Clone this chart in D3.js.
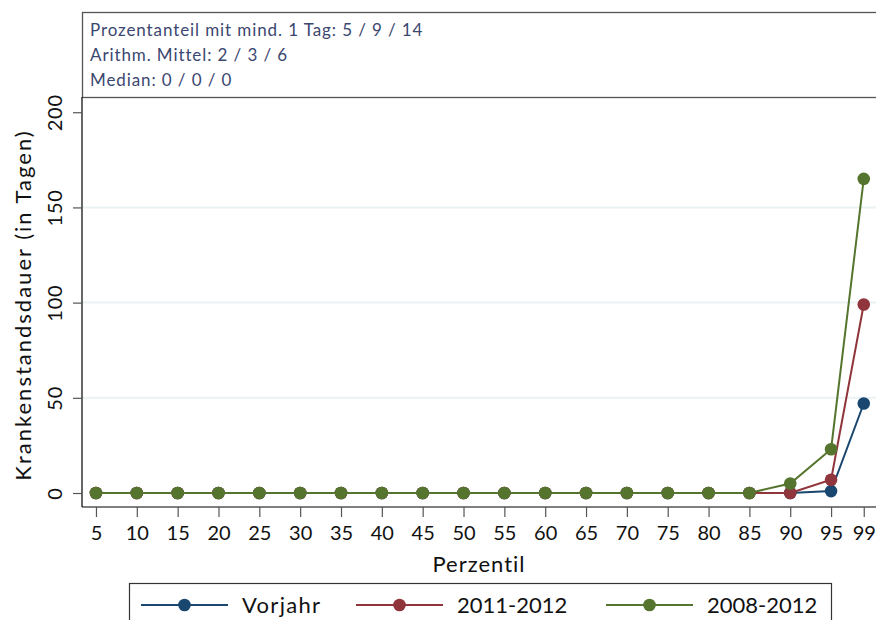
<!DOCTYPE html>
<html><head><meta charset="utf-8">
<script src="https://cdn.jsdelivr.net/npm/d3@7"></script>
<style>body{margin:0;background:#fff}svg{display:block;font-family:Lato,"Open Sans",sans-serif;font-weight:400}</style>
</head><body><svg id="c" width="876" height="620"></svg>
<script>
const percentiles = [5,10,15,20,25,30,35,40,45,50,55,60,65,70,75,80,85,90,95,99];
const vorjahr =   [0,0,0,0,0,0,0,0,0,0,0,0,0,0,0,0,0,0,1,47];
const y2011_2012 = [0,0,0,0,0,0,0,0,0,0,0,0,0,0,0,0,0,0,7,99];
const y2008_2012 = [0,0,0,0,0,0,0,0,0,0,0,0,0,0,0,0,0,5,23,165];
const seriesNames = ["Vorjahr","2011-2012","2008-2012"];
const seriesColors = ["#1a476f","#90353b","#55752f"];
const yTicks = [0,50,100,150,200];
const infoLines = ["Prozentanteil mit mind. 1 Tag: 5 / 9 / 14","Arithm. Mittel: 2 / 3 / 6","Median: 0 / 0 / 0"];

const svg = d3.select("#c");
const L = 82, R = 876, T = 97, B = 507;
const x = d3.scaleLinear().domain([3.29, 100.5]).range([L, R]);
const y = d3.scaleLinear().domain([-7.35, 208]).range([B, T]);

// gridlines
svg.append("g").selectAll("line").data(yTicks.filter(d=>d>0&&d<200)).join("line")
  .attr("x1", L).attr("x2", R).attr("y1", d=>y(d)).attr("y2", d=>y(d))
  .attr("stroke", "#eaf2f3").attr("stroke-width", 2);

// info box
svg.append("rect").attr("x", 82.5).attr("y", 12.5).attr("width", 800).attr("height", 85)
  .attr("fill", "#fff").attr("stroke", "#555").attr("stroke-width", 1.3);
svg.append("g").selectAll("text").data(infoLines).join("text")
  .attr("x", 90).attr("y", (d,i)=>36+i*25).attr("fill", "#3b4770")
  .attr("font-size", 17).attr("letter-spacing", 0.9).text(d=>d);

// y axis
const yAxis = svg.append("g").attr("transform", `translate(${L},0)`)
  .call(d3.axisLeft(y).tickValues(yTicks).tickSize(9).tickPadding(8));
yAxis.select(".domain").attr("stroke", "#000").attr("stroke-width", 1.2).attr("d", `M0,${T}V${B}`);
yAxis.selectAll(".tick line").attr("stroke", "#555").attr("stroke-width", 1.2);
yAxis.selectAll(".tick text").attr("font-family", "Lato").attr("font-size", 20).attr("fill", "#111")
  .attr("letter-spacing", 0.8)
  .attr("transform", "rotate(-90)").attr("text-anchor", "middle")
  .attr("x", 0).attr("dy", 0).attr("y", -20);

// x axis
const xAxis = svg.append("g").attr("transform", `translate(0,${B})`)
  .call(d3.axisBottom(x).tickValues(percentiles).tickFormat(d3.format("d")).tickSize(10).tickPadding(9));
xAxis.select(".domain").attr("stroke", "#000").attr("stroke-width", 1.2).attr("d", `M${L},0H${R}`);
xAxis.selectAll(".tick line").attr("stroke", "#555").attr("stroke-width", 1.2);
xAxis.selectAll(".tick text").attr("font-family", "Lato").attr("font-size", 20).attr("fill", "#111");

// axis titles
svg.append("text").attr("x", (L+R)/2).attr("y", 572).attr("text-anchor", "middle")
  .attr("font-size", 22).attr("letter-spacing", 1).attr("fill", "#111").text("Perzentil");
svg.append("text").attr("transform", `translate(31,${(y(0)+T+20)/2}) rotate(-90)`).attr("text-anchor", "middle")
  .attr("font-size", 22).attr("letter-spacing", 2).attr("fill", "#111").text("Krankenstandsdauer (in Tagen)");

// series
const allSeries = [vorjahr, y2011_2012, y2008_2012];
const line = d3.line().x((d,i)=>x(percentiles[i])).y(d=>y(d));
allSeries.forEach((vals, k) => {
  const g = svg.append("g");
  g.append("path").datum(vals).attr("d", line).attr("fill", "none")
    .attr("stroke", seriesColors[k]).attr("stroke-width", 2);
  g.selectAll("circle").data(vals).join("circle")
    .attr("cx", (d,i)=>x(percentiles[i])).attr("cy", d=>y(d)).attr("r", 6.3)
    .attr("fill", seriesColors[k]);
});

// legend
const lg = svg.append("g");
lg.append("rect").attr("x", 129.5).attr("y", 583.5).attr("width", 702).attr("height", 60)
  .attr("fill", "#fff").attr("stroke", "#333").attr("stroke-width", 1.2);
const lx = [141, 356, 606];
const lspace = [1.3, 0, 0];
seriesNames.forEach((n, k) => {
  lg.append("line").attr("x1", lx[k]).attr("x2", lx[k]+87).attr("y1", 605).attr("y2", 605)
    .attr("stroke", seriesColors[k]).attr("stroke-width", 2);
  lg.append("circle").attr("cx", lx[k]+43.5).attr("cy", 605).attr("r", 6.3).attr("fill", seriesColors[k]);
  lg.append("text").attr("x", lx[k]+101).attr("y", 613).attr("font-size", 22)
    .attr("letter-spacing", lspace[k]).attr("fill", "#111").text(n);
});
</script></body></html>
